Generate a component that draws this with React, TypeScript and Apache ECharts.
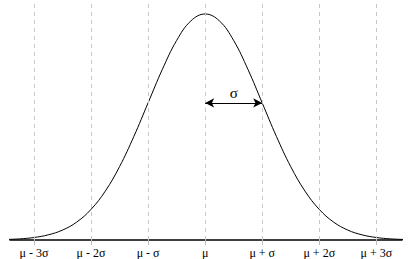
import React, { useEffect, useRef } from "react";
import * as echarts from "echarts";

// x positions in units of sigma from the mean
const xValues = [-3.5, -3.25, -3, -2.75, -2.5, -2.25, -2, -1.75, -1.5, -1.25, -1, -0.75, -0.5, -0.25, 0,
  0.25, 0.5, 0.75, 1, 1.25, 1.5, 1.75, 2, 2.25, 2.5, 2.75, 3, 3.25, 3.5];
// density
const density = [0.0009, 0.002, 0.0044, 0.0091, 0.0175, 0.0317, 0.054, 0.0863, 0.1295, 0.1826, 0.242, 0.3011, 0.3521, 0.3867, 0.3989,
  0.3867, 0.3521, 0.3011, 0.242, 0.1826, 0.1295, 0.0863, 0.054, 0.0317, 0.0175, 0.0091, 0.0044, 0.002, 0.0009];
const tickValues = [-3, -2, -1, 0, 1, 2, 3];
const tickLabels = ["μ - 3σ", "μ - 2σ", "μ - σ", "μ", "μ + σ", "μ + 2σ", "μ + 3σ"];
const sigmaLevel = 0.242;

export default function App() {
  const ref = useRef<HTMLDivElement>(null);
  useEffect(() => {
    if (!ref.current) return;
    const chart = echarts.init(ref.current, undefined, { renderer: "svg" });
    const font = "Liberation Serif";
    chart.setOption({
      animation: false,
      textStyle: { fontFamily: font },
      grid: { left: 10, right: 9, top: 0, bottom: 19, containLabel: false },
      xAxis: {
        type: "value",
        min: -3.42,
        max: 3.45,
        axisLine: { show: true, lineStyle: { color: "#000", width: 1.5 } },
        axisTick: { show: true, customValues: tickValues, length: 5, lineStyle: { color: "#bbb", width: 1 } },
        axisLabel: {
          show: true,
          customValues: tickValues,
          margin: 7,
          fontFamily: font,
          fontSize: 12,
          color: "#000",
          formatter: (v: number) => tickLabels[tickValues.indexOf(Math.round(v))] ?? "",
        },
        splitLine: { show: false },
      },
      yAxis: {
        type: "value",
        min: 0,
        max: 0.4236,
        show: false,
        splitLine: { show: false },
      },
      series: [
        {
          type: "line",
          data: xValues.map((x, i) => [x, density[i]]),
          smooth: 0.4,
          symbol: "none",
          clip: true,
          lineStyle: { color: "#000", width: 1 },
          z: 3,
          markLine: {
            silent: true,
            symbol: "none",
            label: { show: false },
            lineStyle: { color: "#c8c8c8", type: [4, 4], width: 1 },
            data: tickValues.map((v) => ({ xAxis: v })),
          },
        },
        {
          type: "line",
          data: [],
          markLine: {
            silent: true,
            symbol: ["arrow", "arrow"],
            symbolSize: [7, 9],
            lineStyle: { color: "#000", type: "solid", width: 1 },
            label: {
              show: true,
              position: "middle",
              formatter: "σ",
              fontFamily: font,
              fontSize: 15,
              fontWeight: "normal",
              color: "#000",
              distance: 2,
            },
            data: [[{ coord: [0, sigmaLevel] }, { coord: [1, sigmaLevel] }]],
          },
        },
      ],
    });
    return () => chart.dispose();
  }, []);
  return <div ref={ref} style={{ position: "absolute", left: 0, top: 0, width: 411, height: 259 }} />;
}
